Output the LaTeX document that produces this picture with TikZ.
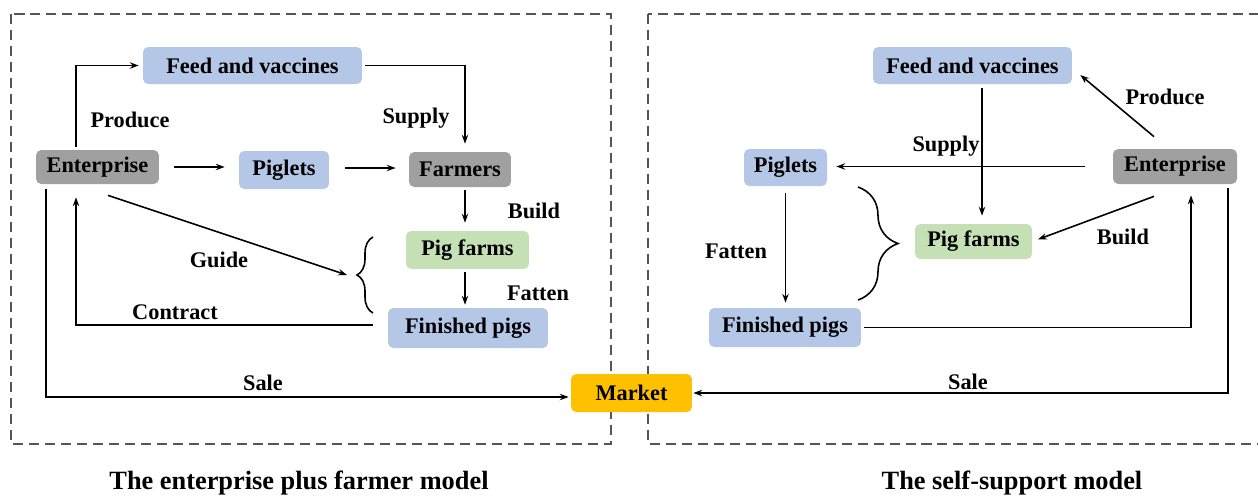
\documentclass[tikz,border=0pt]{standalone}
\usepackage{fontspec}
\setmainfont{Liberation Serif}
\usetikzlibrary{arrows.meta,decorations.pathreplacing}

\definecolor{boxblue}{HTML}{B4C7E7}
\definecolor{boxgray}{HTML}{A0A0A0}
\definecolor{boxgreen}{HTML}{C5E0B4}
\definecolor{boxgold}{HTML}{FFC000}
\definecolor{framegray}{HTML}{555555}

\begin{document}
\begin{tikzpicture}[x=0.02cm, y=-0.02cm,
	font=\fontsize{12.7}{15}\selectfont\bfseries,
	box/.style={rectangle, rounded corners=3pt, inner sep=2pt},
	bluebox/.style={box, fill=boxblue},
	graybox/.style={box, fill=boxgray},
	greenbox/.style={box, fill=boxgreen},
	goldbox/.style={box, fill=boxgold},
	lbl/.style={inner sep=0pt},
	caption/.style={inner sep=0pt, font=\fontsize{15}{18}\selectfont\bfseries},
	arr/.style={-{Stealth[length=5pt,width=3.6pt]}, line width=0.9pt},
	frame/.style={draw=framegray, line width=1.3pt, dash pattern=on 5.7pt off 3.4pt},
	curly/.style={decorate, decoration={brace, amplitude=#1}, line width=0.9pt}]

	% ---- canvas

	\clip (0,0) rectangle (1258,495);

	% ---- frames

	\draw[frame] (11,14) rectangle (611,444);
	\draw[frame] (648,14) rectangle (1275,444);

	% ---- enterprise plus farmer nodes

	\node[bluebox, minimum width=4.38cm, minimum height=0.74cm] (feedL) at (252.5,65.5) {Feed and vaccines};
	\node[graybox, minimum width=2.46cm, minimum height=0.68cm] (entL) at (97.5,167) {Enterprise};
	\node[bluebox, minimum width=1.80cm, minimum height=0.76cm] (pigletL) at (284,170) {Piglets};
	\node[graybox, minimum width=2.04cm, minimum height=0.70cm] (farmer) at (460,169.5) {Farmers};
	\node[greenbox, minimum width=2.46cm, minimum height=0.76cm] (farmL) at (467.5,250) {Pig farms};
	\node[bluebox, minimum width=3.20cm, minimum height=0.80cm] (finishL) at (468,328) {Finished pigs};

	% ---- market

	\node[goldbox, minimum width=2.42cm, minimum height=0.76cm] (market) at (631.5,393) {Market};

	% ---- self-support nodes

	\node[bluebox, minimum width=3.98cm, minimum height=0.74cm] (feedR) at (972.5,65.5) {Feed and vaccines};
	\node[bluebox, minimum width=1.66cm, minimum height=0.74cm] (pigletR) at (785.5,167.5) {Piglets};
	\node[graybox, minimum width=2.48cm, minimum height=0.70cm] (entR) at (1175,166.5) {Enterprise};
	\node[greenbox, minimum width=2.34cm, minimum height=0.70cm] (farmR) at (973.5,241.5) {Pig farms};
	\node[bluebox, minimum width=3.04cm, minimum height=0.78cm] (finishR) at (785,327.5) {Finished pigs};

	% ---- braces

	\coordinate (braceL) at (357,275);
	\draw[curly=0.32cm] (373,313) -- (373,237);
	\draw[curly=0.80cm] (858,187) -- (858,300);

	% ---- enterprise plus farmer arrows

	\draw[arr, shorten <=0.06cm, shorten >=0.08cm] ([xshift=-0.43cm]entL.north) |- (feedL.west);
	\draw[arr, shorten <=0.06cm, shorten >=0.16cm] (feedL.east) -| ([xshift=0.1cm]farmer.north);
	\draw[arr, shorten <=0.30cm, shorten >=0.28cm] (entL.east) -- (entL.east -| pigletL.west);
	\draw[arr, shorten <=0.32cm, shorten >=0.26cm] ([yshift=0.04cm]pigletL.east) -- ([yshift=0.04cm]pigletL.east -| farmer.west);
	\draw[arr, shorten <=0.06cm, shorten >=0.16cm] ([xshift=0.1cm]farmer.south) -- ([xshift=0.1cm]farmer.south |- farmL.north);
	\draw[arr, shorten <=0.06cm, shorten >=0.06cm] ([xshift=-0.05cm]farmL.south) -- ([xshift=-0.05cm]farmL.south |- finishL.north);
	\draw[arr] ([xshift=0.21cm, yshift=-0.22cm]entL.south) -- ([xshift=-0.2cm]braceL);
	\draw[arr, shorten >=0.26cm] ([xshift=-0.3cm, yshift=0.06cm]finishL.west) -| ([xshift=-0.43cm]entL.south);
	\draw[arr, shorten <=0.1cm, shorten >=0.04cm] ([xshift=-1.03cm]entL.south) |- ([yshift=-0.08cm]market.west);

	% ---- self-support arrows

	\draw[arr] ([xshift=-0.42cm, yshift=0.24cm]entR.north) -- ([xshift=0.16cm, yshift=-0.19cm]feedR.east);
	\draw[arr, shorten <=0.08cm, shorten >=0.16cm] ([xshift=0.19cm]feedR.south) -- ([xshift=0.19cm]feedR.south |- farmR.north);
	\draw[arr, shorten <=0.56cm, shorten >=0.18cm] (entR.west) -- (entR.west -| pigletR.east);
	\draw[arr, shorten >=0.12cm] ([xshift=-0.42cm, yshift=-0.24cm]entR.south) -- (farmR.east);
	\draw[arr, shorten <=0.14cm, shorten >=0.10cm] (pigletR.south) -- (pigletR.south |- finishR.north);
	\draw[arr, shorten <=0.06cm, shorten >=0.22cm] (finishR.east) -| ([xshift=0.32cm]entR.south);
	\draw[arr, shorten <=0.08cm, shorten >=0.02cm] ([xshift=1.06cm]entR.south) |- (market.east);

	% ---- arrow labels

	\node[lbl] (produceL) at (130,120) {Produce};
	\node[lbl] (supplyL) at (416,118) {Supply};
	\node[lbl] (buildL) at (534,211) {Build};
	\node[lbl] (guide) at (219,260) {Guide};
	\node[lbl] (fattenL) at (538,293) {Fatten};
	\node[lbl] (contract) at (175,312) {Contract};
	\node[lbl] (saleL) at (263,383) {Sale};

	\node[lbl] (produceR) at (1165,97) {Produce};
	\node[lbl] (supplyR) at (946,146) {Supply};
	\node[lbl] (buildR) at (1123,237) {Build};
	\node[lbl] (fattenR) at (736,251) {Fatten};
	\node[lbl] (saleR) at (968,382) {Sale};

	% ---- captions

	\node[caption] (capL) at (299,483) {The enterprise plus farmer model};
	\node[caption] (capR) at (1012,483) {The self-support model};

\end{tikzpicture}
\end{document}
